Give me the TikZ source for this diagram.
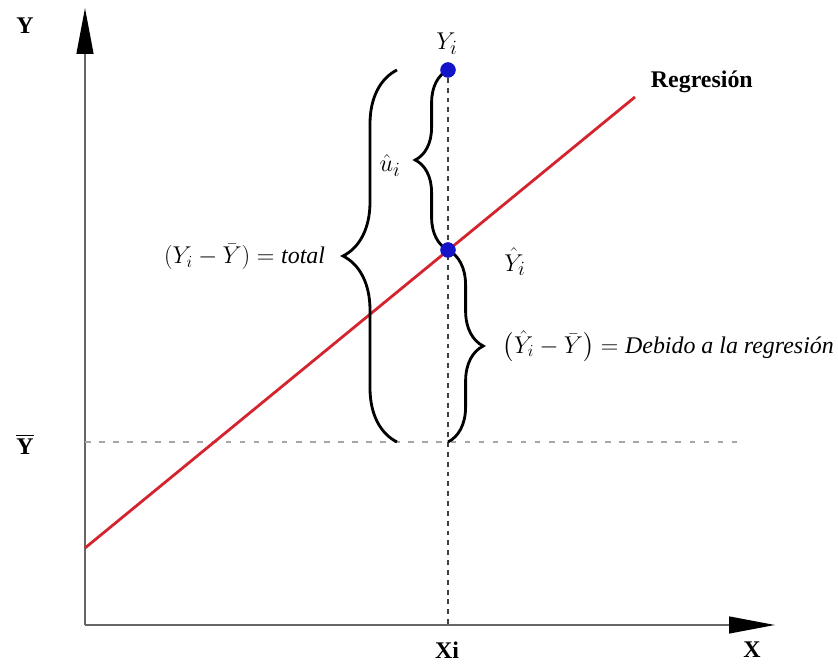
\documentclass[tikz,border=0pt]{standalone}
\usepackage{fontspec}
\setmainfont{Liberation Serif}
\usepackage{amsmath}
\usetikzlibrary{arrows.meta, decorations.pathreplacing}

\definecolor{regred}{RGB}{212,36,46}
\definecolor{dotblue}{RGB}{20,20,200}

\tikzset{
    axis/.style={draw=gray!80!black, line width=1.4pt},
    guide/.style={draw=gray!70, line width=1.2pt, dash pattern=on 4pt off 6pt},
    vguide/.style={draw=gray!50!black, line width=0.9pt, dash pattern=on 3.5pt off 3.5pt},
    curly/.style={draw, line width=2pt, decorate, decoration={brace, amplitude=#1}},
    pt/.style={circle, fill=dotblue, inner sep=0pt, minimum size=0.38cm},
    lbl/.style={font=\fontsize{17}{20}\selectfont}
}

\begin{document}
\begin{tikzpicture}
    \useasboundingbox (0,0) rectangle (20.95,16.6);

    % Axes
    \coordinate (o) at (2.125,0.975);
    \coordinate (ytop) at (2.125,16.4);
    \coordinate (xtip) at (19.375,0.975);
    \draw[axis, -{Triangle[length=1.15cm, width=0.42cm, black]}] (o) -- (ytop);
    \draw[axis, -{Triangle[length=1.15cm, width=0.42cm, black]}] (o) -- (xtip);
    \node[lbl] (ylab) at (0.625,15.95) {\textbf{Y}};
    \node[lbl] (xlab) at (18.8,0.35) {\textbf{X}};
    \node[lbl] (xilab) at (11.175,0.35) {\textbf{Xi}};
    \node[lbl] (ybarlab) at (0.625,5.5) {$\overline{\textbf{Y}}$};

    % Mean line
    \coordinate (ybarL) at (2.125,5.55);
    \coordinate (ybarR) at (18.5,5.55);
    \draw[guide] (ybarL) -- (ybarR);

    % Points
    \node[pt] (yi) at (11.2,14.85) {};
    \node[pt] (yhat) at (11.2,10.35) {};
    \coordinate (xi) at (11.2,0.975);
    \coordinate (ymean) at (11.2,5.55);
    \draw[vguide] (yi) -- (xi);

    % Regression line
    \coordinate (rstart) at (2.125,2.9);
    \coordinate (rend) at (15.875,14.175);
    \draw[regred, line width=2pt] (rstart) -- (rend);
    \node[lbl, anchor=west] (reglab) at (16.15,14.55) {\textbf{Regresión}};

    % Braces
    \coordinate (bbot) at (9.925,5.55);
    \coordinate (btop) at (9.925,14.85);
    \draw[curly=1.35cm] (bbot) -- (btop);
    \draw[curly=0.82cm] (yhat.center) -- (yi.center);
    \draw[curly=0.88cm] (yhat.center) -- (ymean);

    % Labels
    \node[lbl] (yilab) at (11.175,15.5) {\fontsize{19}{22}\selectfont$Y_i$};
    \node[lbl] (yhatlab) at (12.875,10.05) {\fontsize{19}{22}\selectfont$\hat{Y}_i$};
    \node[lbl] (ulab) at (9.75,12.45) {\fontsize{19}{22}\selectfont$\hat{u}_i$};
    \node[lbl, anchor=east] (totlab) at (8.25,10.18) {$(Y_i - \bar{Y}) = \textit{total}$};
    \node[lbl, anchor=west] (reglab2) at (12.45,7.95) {$\bigl(\hat{Y}_i - \bar{Y}\bigr) = \textit{Debido a la regresión}$};

    % Dots on top
    \node[pt] at (yi) {};
    \node[pt] at (yhat) {};

\end{tikzpicture}
\end{document}
